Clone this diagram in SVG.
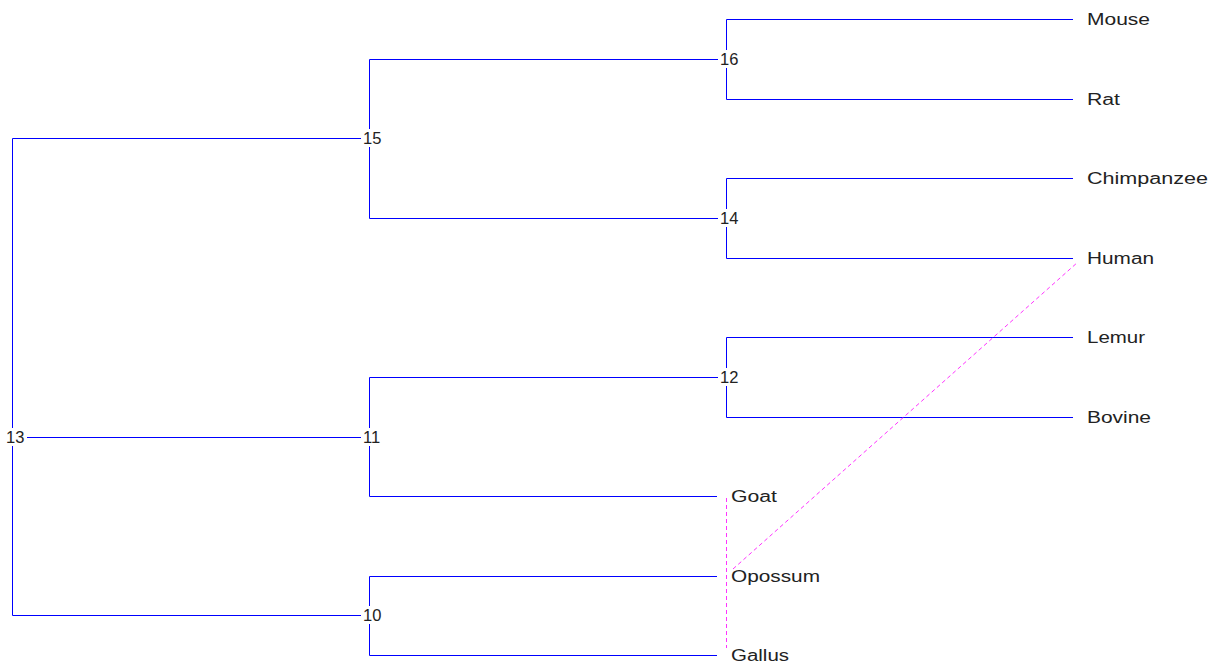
<svg xmlns="http://www.w3.org/2000/svg" width="1209" height="662" viewBox="0 0 1209 662">
  <style>
    .edge { fill: none; stroke: #0000ff; stroke-width: 1; }
    .link { fill: none; stroke: #ff33ff; stroke-width: 1; stroke-dasharray: 4 3; }
    .box { fill: #ffffff; stroke: none; }
    .num { font-family: "Liberation Sans", Arial, sans-serif; font-size: 16.5px; fill: #222222; }
    .leaf { font-family: "Liberation Sans", Arial, sans-serif; font-size: 16px; fill: #222222; }
  </style>
  <rect width="1209" height="662" fill="#ffffff"/>

  <!-- tree edges -->
  <g id="connectors">
    <!-- 13 -->
    <path class="edge" d="M12.5 138.5 V615.5 M12.5 138.5 H369.5 M12.5 437.5 H369.5 M12.5 615.5 H369.5"/>
    <!-- 15 -->
    <path class="edge" d="M369.5 59.5 V218.5 M369.5 59.5 H726.5 M369.5 218.5 H726.5"/>
    <!-- 16 -->
    <path class="edge" d="M726.5 19.5 V99.5 M726.5 19.5 H1081 M726.5 99.5 H1081"/>
    <!-- 14 -->
    <path class="edge" d="M726.5 178.5 V258.5 M726.5 178.5 H1081 M726.5 258.5 H1081"/>
    <!-- 11 -->
    <path class="edge" d="M369.5 377.5 V496.5 M369.5 377.5 H726.5 M369.5 496.5 H726.5"/>
    <!-- 12 -->
    <path class="edge" d="M726.5 337.5 V417.5 M726.5 337.5 H1081 M726.5 417.5 H1081"/>
    <!-- 10 -->
    <path class="edge" d="M369.5 576.5 V655.5 M369.5 576.5 H726.5 M369.5 655.5 H726.5"/>
  </g>

  <!-- internal nodes -->
  <g id="node-13"><rect class="box" x="4" y="428" width="23" height="18"/><text class="num" x="6" y="443">13</text></g>
  <g id="node-15"><rect class="box" x="361" y="129" width="23" height="18"/><text class="num" x="363" y="144">15</text></g>
  <g id="node-11"><rect class="box" x="361" y="428" width="23" height="18"/><text class="num" x="363" y="443">11</text></g>
  <g id="node-10"><rect class="box" x="361" y="606" width="23" height="18"/><text class="num" x="363" y="621">10</text></g>
  <g id="node-16"><rect class="box" x="718" y="50" width="23" height="18"/><text class="num" x="720" y="65">16</text></g>
  <g id="node-14"><rect class="box" x="718" y="209" width="23" height="18"/><text class="num" x="720" y="224">14</text></g>
  <g id="node-12"><rect class="box" x="718" y="368" width="23" height="18"/><text class="num" x="720" y="383">12</text></g>

  <!-- leaves -->
  <g id="leaf-mouse"><rect class="box" x="1073" y="10" width="80" height="18"/><text class="leaf" x="1087" y="25" textLength="63" lengthAdjust="spacingAndGlyphs">Mouse</text></g>
  <g id="leaf-rat"><rect class="box" x="1073" y="90" width="50" height="18"/><text class="leaf" x="1087" y="105" textLength="33" lengthAdjust="spacingAndGlyphs">Rat</text></g>
  <g id="leaf-chimpanzee"><rect class="box" x="1073" y="169" width="136" height="18"/><text class="leaf" x="1087" y="184" textLength="121" lengthAdjust="spacingAndGlyphs">Chimpanzee</text></g>
  <g id="leaf-human"><rect class="box" x="1073" y="249" width="84" height="18"/><text class="leaf" x="1087" y="264" textLength="67" lengthAdjust="spacingAndGlyphs">Human</text></g>
  <g id="leaf-lemur"><rect class="box" x="1073" y="328" width="76" height="18"/><text class="leaf" x="1087" y="343" textLength="58" lengthAdjust="spacingAndGlyphs">Lemur</text></g>
  <g id="leaf-bovine"><rect class="box" x="1073" y="408" width="80" height="18"/><text class="leaf" x="1087" y="423" textLength="64" lengthAdjust="spacingAndGlyphs">Bovine</text></g>
  <g id="leaf-goat"><rect class="box" x="717" y="487" width="64" height="18"/><text class="leaf" x="731" y="502" textLength="46" lengthAdjust="spacingAndGlyphs">Goat</text></g>
  <g id="leaf-opossum"><rect class="box" x="717" y="567" width="106" height="18"/><text class="leaf" x="731" y="582" textLength="89" lengthAdjust="spacingAndGlyphs">Opossum</text></g>
  <g id="leaf-gallus"><rect class="box" x="717" y="646" width="76" height="16"/><text class="leaf" x="731" y="661" textLength="58" lengthAdjust="spacingAndGlyphs">Gallus</text></g>

  <!-- cross links -->
  <g id="links">
    <path class="link" d="M726.5 498 V648"/>
    <path class="link" d="M733 569 L1078 262"/>
  </g>
</svg>
